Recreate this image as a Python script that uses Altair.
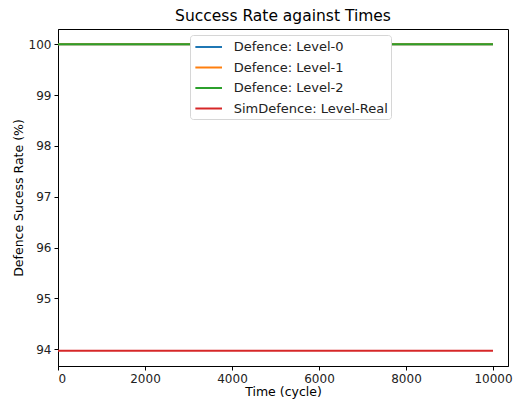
import altair as alt
import pandas as pd

series = ["Defence: Level-0", "Defence: Level-1", "Defence: Level-2", "SimDefence: Level-Real"]
colors = ["#1f77b4", "#ff7f0e", "#2ca02c", "#d62728"]
times = [0, 10000]
rates = {
    "Defence: Level-0": [100.0, 100.0],
    "Defence: Level-1": [100.0, 100.0],
    "Defence: Level-2": [100.0, 100.0],
    "SimDefence: Level-Real": [93.97, 93.97],
}
x_ticks = [0, 2000, 4000, 6000, 8000, 10000]
y_ticks = [94, 95, 96, 97, 98, 99, 100]

rows = []
for i, s in enumerate(series):
    for t, v in zip(times, rates[s]):
        rows.append({"time": t, "rate": v, "series": s, "order": i})
df = pd.DataFrame(rows)

FONT = "DejaVu Sans"

chart = alt.Chart(df).mark_line(strokeWidth=1.8).encode(
    x=alt.X("time:Q", title="Time (cycle)",
            scale=alt.Scale(domain=[0, 10345], nice=False, zero=False),
            axis=alt.Axis(values=x_ticks, format="d", grid=False)),
    y=alt.Y("rate:Q", title="Defence Sucess Rate (%)",
            scale=alt.Scale(domain=[93.67, 100.30], nice=False, zero=False),
            axis=alt.Axis(values=y_ticks, format="d", grid=False)),
    color=alt.Color("series:N", sort=series,
                    scale=alt.Scale(domain=series, range=colors),
                    legend=alt.Legend(title=None, orient="none", legendX=132, legendY=6,
                                      symbolType="M-0.83,0H2.5", symbolSize=256,
                                      symbolStrokeWidth=2,
                                      labelFont=FONT, labelFontSize=13, labelColor="#222",
                                      rowPadding=4.5, padding=3, labelOffset=22.7,
                                      fillColor="white", strokeColor="#d6d6d6",
                                      cornerRadius=3)),
    detail="series:N",
    order="order:Q",
).properties(
    width=450, height=337,
    title=alt.TitleParams("Success Rate against Times", font=FONT, fontSize=15.5,
                          fontWeight="normal", color="#000", offset=5),
    autosize=alt.AutoSizeParams(type="none"),
    padding={"left": 50, "top": 21, "right": 5, "bottom": 35},
).configure_view(
    stroke="#000", strokeWidth=1
).configure_axis(
    domainColor="#000", tickColor="#000", tickSize=4,
    labelFont=FONT, labelFontSize=12, labelColor="#222",
    titleFont=FONT, titleFontSize=12.5, titleFontWeight="normal", titleColor="#000",
    labelPadding=3,
).configure_axisY(titlePadding=3).configure_axisX(titlePadding=1)

chart.save("out.html", embed_options={"renderer": "svg", "actions": False})
